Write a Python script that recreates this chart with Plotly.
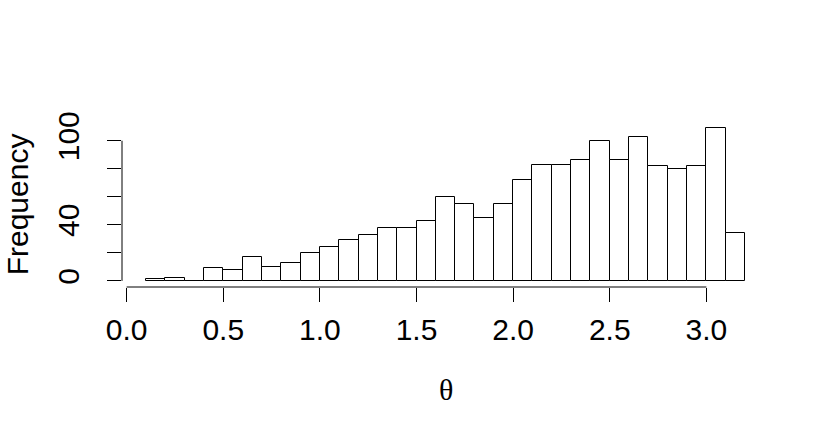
import plotly.graph_objects as go

# histogram of theta, breaks every 0.1 from 0.1 to 3.2
bin_left = [0.1, 0.2, 0.3, 0.4, 0.5, 0.6, 0.7, 0.8, 0.9, 1.0,
            1.1, 1.2, 1.3, 1.4, 1.5, 1.6, 1.7, 1.8, 1.9, 2.0,
            2.1, 2.2, 2.3, 2.4, 2.5, 2.6, 2.7, 2.8, 2.9, 3.0, 3.1]
counts = [1, 2, 0, 9, 8, 17, 10, 13, 20, 24,
          29, 33, 38, 38, 43, 60, 55, 45, 55, 72,
          83, 83, 86, 100, 86, 103, 82, 80, 82, 109, 34]
bin_width = 0.1

x_ticks = [0.0, 0.5, 1.0, 1.5, 2.0, 2.5, 3.0]
x_labels = ["0.0", "0.5", "1.0", "1.5", "2.0", "2.5", "3.0"]
y_ticks = [0, 20, 40, 60, 80, 100]
y_labels = ["0", "", "40", "", "", "100"]  # R drops the ones that overlap

centers = [b + bin_width / 2 for b in bin_left]

fig = go.Figure()
fig.add_trace(go.Bar(x=centers, y=counts, width=bin_width,
                     marker=dict(color="white", line=dict(color="black", width=1)),
                     showlegend=False))

# R-style axes: line only spans the tick range
fig.add_shape(type="line", xref="x", yref="paper", x0=min(x_ticks), x1=max(x_ticks),
              y0=0, y1=0, line=dict(color="black", width=1))
fig.add_shape(type="line", xref="paper", yref="y", x0=0, x1=0,
              y0=min(y_ticks), y1=max(y_ticks), line=dict(color="black", width=1))

# usr range = data range padded by 4% on each side (R default)
xmax = bin_left[-1] + bin_width
xpad = 0.04 * (xmax - bin_left[0])
ymax = max(counts)
fig.update_xaxes(range=[bin_left[0] - xpad, xmax + xpad],
                 tickvals=x_ticks, ticktext=x_labels, ticks="outside", ticklen=14,
                 tickcolor="black", tickwidth=1, showline=False, showgrid=False,
                 zeroline=False, automargin=False, ticklabelstandoff=2,
                 tickfont=dict(family="Liberation Sans", size=30, color="black"))
fig.update_yaxes(range=[-0.04 * ymax, ymax * 1.04],
                 tickvals=y_ticks, ticktext=y_labels, ticks="outside", ticklen=14,
                 tickcolor="black", tickwidth=1, showline=False, showgrid=False,
                 zeroline=False, automargin=False, tickangle=-90, ticklabelstandoff=16,
                 tickfont=dict(family="Liberation Sans", size=30, color="black"))

fig.add_annotation(text="Frequency", xref="paper", yref="paper", x=-0.161, y=0.5,
                   xanchor="center", yanchor="middle", textangle=-90, showarrow=False,
                   font=dict(family="Liberation Sans", size=30, color="black"))
fig.add_annotation(text="θ", xref="paper", yref="paper", x=0.5, y=-0.62,
                   xanchor="center", yanchor="middle", showarrow=False,
                   font=dict(family="Liberation Serif", size=30, color="black"))

fig.update_layout(width=830, height=440, plot_bgcolor="white", paper_bgcolor="white",
                  margin=dict(l=122, r=61, t=122, b=153), bargap=0)
# drop the browser's default 8px body margin so the figure sits at (0, 0)
fig.write_html("out.html", config={"displayModeBar": False},
               post_script="document.body.style.margin='0';")
